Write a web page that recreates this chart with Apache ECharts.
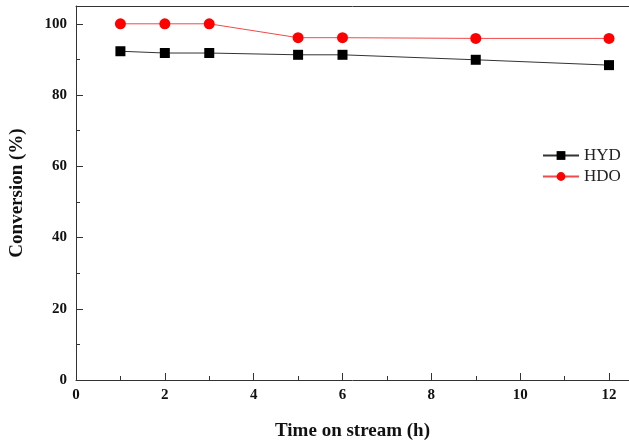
<!DOCTYPE html>
<html>
<head>
<meta charset="utf-8">
<script src="https://cdn.jsdelivr.net/npm/echarts@6/dist/echarts.min.js"></script>
<style>
  html, body { margin: 0; padding: 0; background: #fff; }
  #main { width: 629px; height: 443px; }
</style>
</head>
<body>
<div id="main"></div>
<script>
var hours = [1, 2, 3, 5, 6, 9, 12];
var hydValues = [92.3, 91.8, 91.8, 91.3, 91.3, 89.9, 88.4];
var hdoValues = [100, 100, 100, 96.1, 96.1, 95.9, 95.9];

var serif = '"Liberation Serif", "DejaVu Serif", serif';

function pairs(xs, ys) {
  return xs.map(function (x, i) { return [x, ys[i]]; });
}

var chartDom = document.getElementById('main');
var myChart = echarts.init(chartDom);
var option = {
  backgroundColor: '#fff',
  animation: false,
  grid: {
    left: 76,
    right: 0,
    top: 6,
    bottom: 63,
    outerBoundsMode: 'none'
  },
  legend: {
    orient: 'vertical',
    left: 537,
    top: 142,
    itemWidth: 36,
    itemHeight: 11,
    itemGap: 4,
    textStyle: {
      fontFamily: serif,
      fontSize: 17,
      color: '#222'
    },
    data: ['HYD', 'HDO']
  },
  xAxis: [
    {
      type: 'value',
      min: 0,
      max: 12.45,
      interval: 2,
      name: 'Time on stream (h)',
      nameLocation: 'middle',
      nameGap: 42,
      nameTextStyle: {
        fontFamily: serif,
        fontSize: 19,
        fontWeight: 'bold',
        color: '#111'
      },
      axisLine: { lineStyle: { color: '#333', width: 1 } },
      axisTick: { inside: true, length: 7, lineStyle: { color: '#333' } },
      minorTick: { show: true, splitNumber: 2, length: 4, lineStyle: { color: '#333' } },
      axisLabel: {
        fontFamily: serif,
        fontSize: 15,
        fontWeight: 'bold',
        color: '#111',
        margin: 8,
        showMaxLabel: false
      },
      splitLine: { show: false }
    },
    {
      type: 'value',
      position: 'top',
      min: 0,
      max: 12.45,
      axisLine: { show: true, lineStyle: { color: '#333', width: 1 } },
      axisTick: { show: false },
      axisLabel: { show: false },
      splitLine: { show: false }
    }
  ],
  yAxis: {
    type: 'value',
    min: 0,
    max: 105,
    interval: 20,
    name: 'Conversion (%)',
    nameLocation: 'middle',
    nameGap: 49,
    nameTextStyle: {
      fontFamily: serif,
      fontSize: 19,
      fontWeight: 'bold',
      color: '#111'
    },
    axisLine: { show: true, lineStyle: { color: '#333', width: 1 } },
    axisTick: { inside: true, length: 7, lineStyle: { color: '#333' } },
    minorTick: { show: true, splitNumber: 2, length: 4, lineStyle: { color: '#333' } },
    axisLabel: {
      fontFamily: serif,
      fontSize: 15,
      fontWeight: 'bold',
      color: '#111',
      margin: 9,
      showMaxLabel: false
    },
    splitLine: { show: false }
  },
  series: [
    {
      name: 'HYD',
      type: 'line',
      data: pairs(hours, hydValues),
      symbol: 'rect',
      symbolSize: 10,
      itemStyle: { color: '#000' },
      lineStyle: { color: '#333', width: 1 }
    },
    {
      name: 'HDO',
      type: 'line',
      data: pairs(hours, hdoValues),
      symbol: 'circle',
      symbolSize: 11,
      itemStyle: { color: '#ff0000' },
      lineStyle: { color: '#f24a4a', width: 1 }
    }
  ]
};
myChart.setOption(option);
</script>
</body>
</html>
